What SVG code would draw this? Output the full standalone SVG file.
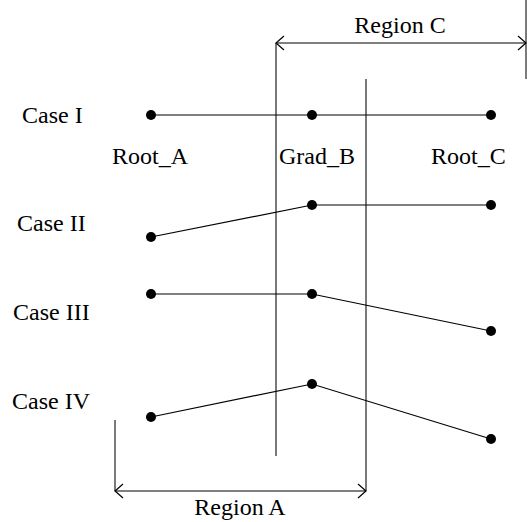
<svg xmlns="http://www.w3.org/2000/svg" width="527" height="522" viewBox="0 0 527 522">
<style>
text{font-family:"Liberation Serif","Times New Roman",serif;font-size:24px;fill:#000}
.ln{stroke:#000;stroke-width:1.2;fill:none}
.gd{stroke:#222;stroke-width:1.2;fill:none}
.dot{fill:#000}
</style>
<defs>
<marker id="ah" viewBox="0 0 10 16" refX="9" refY="8" markerWidth="10" markerHeight="16" markerUnits="userSpaceOnUse" orient="auto-start-reverse">
<path d="M1,1 L9,8 L1,15" fill="none" stroke="#000" stroke-width="1.2"/>
</marker>
</defs>
<rect width="527" height="522" fill="#fff"/>
<g id="guides">
<line class="gd" x1="276" y1="43" x2="276" y2="456"/>
<line class="gd" x1="366" y1="79" x2="366" y2="491"/>
<line class="gd" x1="526" y1="0" x2="526" y2="79"/>
<line class="gd" x1="115" y1="420" x2="115" y2="491"/>
</g>
<g id="regionC">
<line class="ln" x1="276" y1="43" x2="526" y2="43" marker-start="url(#ah)" marker-end="url(#ah)"/>
<text x="400" y="33" text-anchor="middle">Region C</text>
</g>
<g id="regionA">
<line class="ln" x1="115" y1="491" x2="366" y2="491" marker-start="url(#ah)" marker-end="url(#ah)"/>
<text x="240" y="515" text-anchor="middle">Region A</text>
</g>
<g id="labels">
<text x="22" y="123">Case I</text>
<text x="17" y="231">Case II</text>
<text x="13" y="320">Case III</text>
<text x="12" y="409">Case IV</text>
<text x="112" y="164">Root_A</text>
<text x="279" y="164">Grad_B</text>
<text x="431" y="164">Root_C</text>
</g>
<g id="connectors">
<polyline class="ln" points="151,115 312,115 491,115"/>
<polyline class="ln" points="151,237 312,205 491,205"/>
<polyline class="ln" points="151,294 312,294 491,331"/>
<polyline class="ln" points="151,417 312,384 491,439"/>
</g>
<g id="case1">
<circle class="dot" cx="151" cy="115" r="5"/>
<circle class="dot" cx="312" cy="115" r="5"/>
<circle class="dot" cx="491" cy="115" r="5"/>
</g>
<g id="case2">
<circle class="dot" cx="151" cy="237" r="5"/>
<circle class="dot" cx="312" cy="205" r="5"/>
<circle class="dot" cx="491" cy="205" r="5"/>
</g>
<g id="case3">
<circle class="dot" cx="151" cy="294" r="5"/>
<circle class="dot" cx="312" cy="294" r="5"/>
<circle class="dot" cx="491" cy="331" r="5"/>
</g>
<g id="case4">
<circle class="dot" cx="151" cy="417" r="5"/>
<circle class="dot" cx="312" cy="384" r="5"/>
<circle class="dot" cx="491" cy="439" r="5"/>
</g>
</svg>
